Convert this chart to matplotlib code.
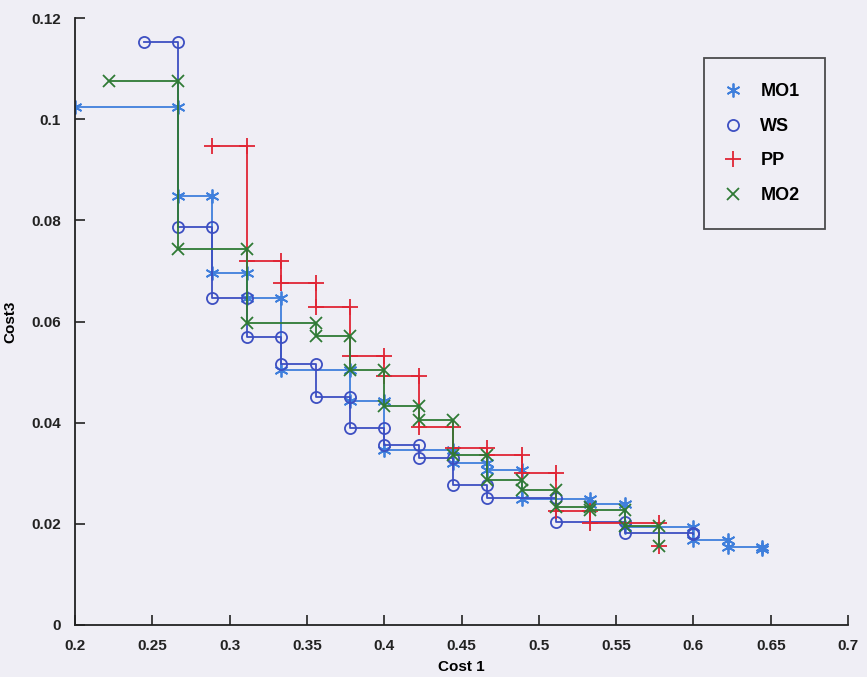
import matplotlib.pyplot as plt
from matplotlib.lines import Line2D

# pareto points (cost 1 vs cost 3)
mo1_x = [0.2, 0.2667, 0.2889, 0.3111, 0.3333, 0.3778, 0.4, 0.4444, 0.4667, 0.4889, 0.5333, 0.5556, 0.6, 0.6222, 0.6444]
mo1_y = [0.1024, 0.0848, 0.0695, 0.0646, 0.0505, 0.0442, 0.0345, 0.0321, 0.0307, 0.0249, 0.0240, 0.0194, 0.0168, 0.0154, 0.0150]

ws_x = [0.2444, 0.2667, 0.2889, 0.3111, 0.3333, 0.3556, 0.3778, 0.4, 0.4222, 0.4444, 0.4667, 0.5111, 0.5556, 0.6]
ws_y = [0.1152, 0.0786, 0.0646, 0.0570, 0.0515, 0.0451, 0.0390, 0.0356, 0.0330, 0.0277, 0.0251, 0.0204, 0.0182, 0.0180]

pp_x = [0.2889, 0.3111, 0.3333, 0.3556, 0.3778, 0.4, 0.4222, 0.4444, 0.4667, 0.4889, 0.5111, 0.5333, 0.5778]
pp_y = [0.0947, 0.0719, 0.0677, 0.0628, 0.0531, 0.0493, 0.0392, 0.0350, 0.0337, 0.0301, 0.0226, 0.0202, 0.0156]

mo2_x = [0.2222, 0.2667, 0.3111, 0.3556, 0.3778, 0.4, 0.4222, 0.4444, 0.4667, 0.4889, 0.5111, 0.5333, 0.5556, 0.5778]
mo2_y = [0.1075, 0.0743, 0.0598, 0.0572, 0.0505, 0.0432, 0.0406, 0.0337, 0.0287, 0.0267, 0.0234, 0.0228, 0.0196, 0.0156]

labels = ["MO1", "WS", "PP", "MO2"]
x_ticks = [0.2, 0.25, 0.3, 0.35, 0.4, 0.45, 0.5, 0.55, 0.6, 0.65, 0.7]
x_ticklabels = ["0.2", "0.25", "0.3", "0.35", "0.4", "0.45", "0.5", "0.55", "0.6", "0.65", "0.7"]
y_ticks = [0, 0.02, 0.04, 0.06, 0.08, 0.1, 0.12]
y_ticklabels = ["0", "0.02", "0.04", "0.06", "0.08", "0.1", "0.12"]


def stairs(x, y):
    # horizontal to the next x, then drop to the next y
    sx, sy = [x[0]], [y[0]]
    for i in range(1, len(x)):
        sx += [x[i], x[i]]
        sy += [y[i - 1], y[i]]
    return sx, sy


bg = "#efeef5"
plt.rcParams['font.family'] = ['Liberation Sans', 'DejaVu Sans']
plt.rcParams['font.weight'] = 'bold'

fig = plt.figure(figsize=(8.67, 6.77), dpi=100, facecolor=bg)
ax = fig.add_axes([75 / 867, 52 / 677, 773 / 867, 607 / 677], facecolor=bg)

asterisk = (6, 2, 0)
styles = [
    dict(color="#3f7fdc", marker=asterisk, ms=10, mfc="none"),
    dict(color="#3d4fc2", marker="o", ms=8, mfc="none"),
    dict(color="#e02535", marker="+", ms=11),
    dict(color="#2f7a35", marker="x", ms=9),
]
series = [(mo1_x, mo1_y), (ws_x, ws_y), (pp_x, pp_y), (mo2_x, mo2_y)]

for (xs, ys), st in zip(series, styles):
    sx, sy = stairs(xs, ys)
    ax.plot(sx, sy, lw=1.3, mew=1.3, **st)

ax.set_xlim(0.2, 0.7)
ax.set_ylim(0, 0.12)
ax.set_xticks(x_ticks)
ax.set_xticklabels(x_ticklabels)
ax.set_yticks(y_ticks)
ax.set_yticklabels(y_ticklabels)
ax.tick_params(direction="in", length=7, width=1.2, labelsize=11, colors="#222222")
ax.tick_params(axis="x", pad=10)
ax.tick_params(axis="y", pad=10)
for s in ["top", "right"]:
    ax.spines[s].set_visible(False)
for s in ["left", "bottom"]:
    ax.spines[s].set_linewidth(1.3)
    ax.spines[s].set_color("#222222")

ax.set_xlabel("Cost 1", fontsize=11, fontweight="bold", labelpad=5)
ax.set_ylabel("Cost3", fontsize=11, fontweight="bold", labelpad=10)

handles = [Line2D([], [], lw=0, mew=1.3, **st) for st in styles]
leg = ax.legend(handles, labels, loc="upper right", bbox_to_anchor=(0.970, 0.934),
                frameon=True, fancybox=False, edgecolor="#222222", facecolor=bg,
                fontsize=13, handlelength=0.4, handletextpad=1.3, labelspacing=0.97,
                borderpad=1.4, borderaxespad=0)
leg.get_frame().set_linewidth(1.3)
for t in leg.get_texts():
    t.set_fontweight("bold")

fig.savefig("out.png", dpi=100, facecolor=bg)
